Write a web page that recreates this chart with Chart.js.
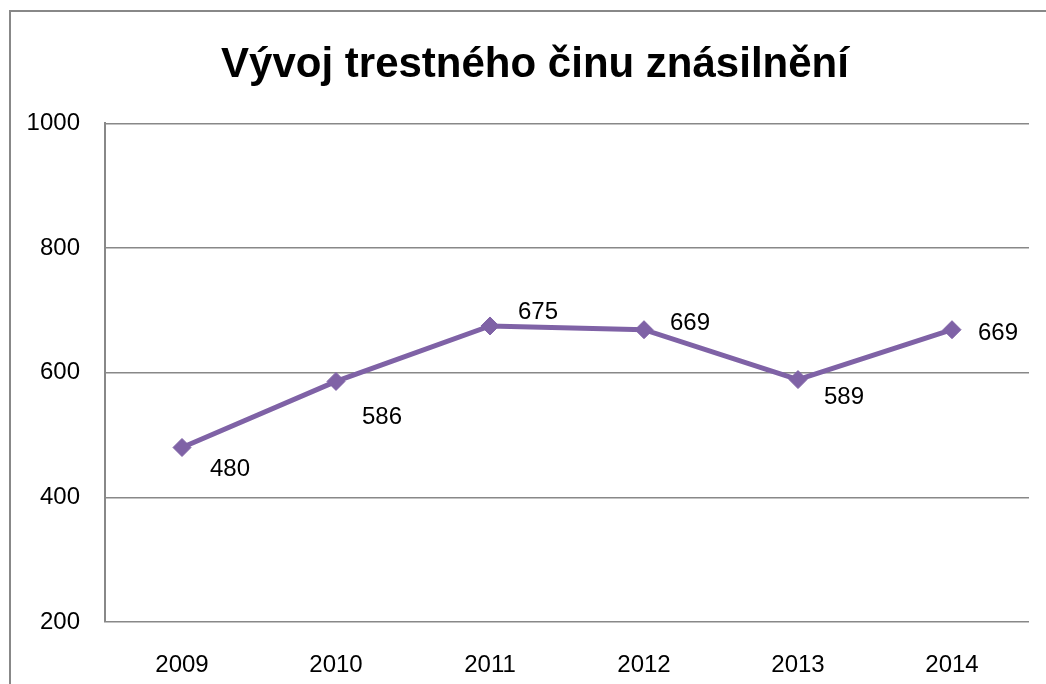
<!DOCTYPE html>
<html>
<head>
<meta charset="utf-8">
<script src="https://cdn.jsdelivr.net/npm/chart.js@4/dist/chart.umd.min.js"></script>
<style>
  html, body { margin: 0; padding: 0; background: #fff; overflow: hidden; }
  #wrap { position: relative; width: 1046px; height: 684px; }
</style>
</head>
<body>
<div id="wrap"><canvas id="c" width="1046" height="684"></canvas></div>
<script>
const categories = ['2009', '2010', '2011', '2012', '2013', '2014'];
const values = [480, 586, 675, 669, 589, 669];
const yTicks = [200, 400, 600, 800, 1000];
const titleText = 'Vývoj trestného činu znásilnění';

// label placement offsets (styling only)
const labelOffsets = [[48, 22], [46, 36], [48, -14], [46, -6], [46, 18], [46, 4]];

const FONT = "'Liberation Sans', Arial, sans-serif";

const framePlugin = {
  id: 'frame',
  afterLayout(chart) {
    // centre the title block over the frame area
    if (chart.titleBlock) {
      chart.titleBlock.left = 41;
      chart.titleBlock.right = 1029;
    }
  },
  beforeDraw(chart) {
    const ctx = chart.ctx;
    ctx.save();
    ctx.strokeStyle = '#888888';
    ctx.lineWidth = 2;
    ctx.strokeRect(10, 11, 2000, 2000);
    ctx.restore();
  }
};

const labelPlugin = {
  id: 'pointLabels',
  afterDatasetsDraw(chart) {
    const ctx = chart.ctx;
    const meta = chart.getDatasetMeta(0);
    ctx.save();
    ctx.font = '24px ' + FONT;
    ctx.fillStyle = '#000';
    ctx.textAlign = 'center';
    ctx.textBaseline = 'middle';
    meta.data.forEach((pt, i) => {
      const off = labelOffsets[i];
      ctx.fillText(String(values[i]), pt.x + off[0], pt.y + off[1]);
    });
    ctx.restore();
  }
};

new Chart(document.getElementById('c'), {
  type: 'line',
  data: {
    labels: categories,
    datasets: [{
      data: values,
      borderColor: '#7F62A6',
      backgroundColor: '#7F62A6',
      borderWidth: 5,
      pointStyle: 'rectRot',
      pointRadius: 9,
      pointBorderWidth: 1,
      pointBackgroundColor: '#7F62A6',
      pointBorderColor: '#7F62A6',
      tension: 0,
      fill: false
    }]
  },
  options: {
    responsive: false,
    animation: false,
    devicePixelRatio: 1,
    layout: { padding: { left: 0, right: 17, top: 0, bottom: 0 } },
    plugins: {
      legend: { display: false },
      tooltip: { enabled: false },
      title: {
        display: true,
        text: titleText,
        color: '#000',
        font: { family: FONT, size: 42, weight: 'bold', lineHeight: 1.2 },
        padding: { top: 40, bottom: 33 }
      }
    },
    scales: {
      x: {
        offset: true,
        grid: { display: false, drawTicks: false },
        border: { display: false },
        ticks: { color: '#000', font: { family: FONT, size: 24 }, padding: 29, maxRotation: 0 },
        afterFit(s) { s.height = 62; }
      },
      y: {
        min: 200,
        max: 1000,
        afterBuildTicks(s) { s.ticks = yTicks.map(v => ({ value: v })); },
        grid: { color: '#888888', lineWidth: 1.5, drawTicks: false },
        border: { display: true, color: '#888888', width: 2 },
        ticks: { color: '#000', font: { family: FONT, size: 24 }, padding: 25, callback: v => String(v) },
        afterFit(s) { s.width = 105; }
      }
    }
  },
  plugins: [framePlugin, labelPlugin]
});
</script>
</body>
</html>
